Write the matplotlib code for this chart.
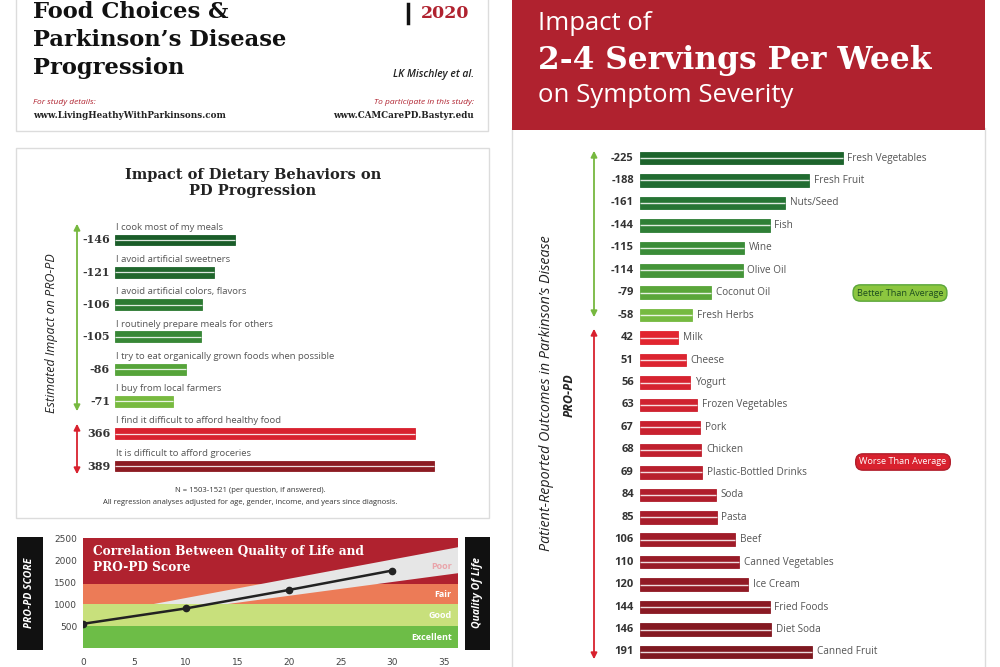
import matplotlib
matplotlib.use("Agg")
import matplotlib.pyplot as plt
from matplotlib.patches import Rectangle, Polygon

# ---- data ----
# right panel: impact of 2-4 servings per week on PRO-PD
foods = ["Fresh Vegetables", "Fresh Fruit", "Nuts/Seed", "Fish", "Wine", "Olive Oil",
         "Coconut Oil", "Fresh Herbs", "Milk", "Cheese", "Yogurt", "Frozen Vegetables",
         "Pork", "Chicken", "Plastic-Bottled Drinks", "Soda", "Pasta", "Beef",
         "Canned Vegetables", "Ice Cream", "Fried Foods", "Diet Soda", "Canned Fruit"]
food_vals = [-225, -188, -161, -144, -115, -114, -79, -58, 42, 51, 56, 63,
             67, 68, 69, 84, 85, 106, 110, 120, 144, 146, 191]
food_colors = ["#1d642c", "#216c31", "#267434", "#2f7f36", "#3a8c38", "#459539",
               "#5aa63a", "#76ba41",
               "#e1252f", "#dc2430", "#d62330", "#cf2230", "#c8212f", "#c0202e",
               "#b81f2d", "#b01e2c", "#a81d2b", "#a01c29", "#981b27", "#911a25",
               "#8a1a24", "#841922", "#7e1820"]

# left panel: dietary behaviours
behaviours = ["I cook most of my meals", "I avoid artificial sweetners",
              "I avoid artificial colors, flavors", "I routinely prepare meals for others",
              "I try to eat organically grown foods when possible", "I buy from local farmers",
              "I find it difficult to afford healthy food", "It is difficult to afford groceries"]
behaviour_vals = [-146, -121, -106, -105, -86, -71, 366, 389]
behaviour_colors = ["#1a5d29", "#21672d", "#2c7a32", "#378736", "#56a43a", "#78ba40",
                    "#d8212e", "#8c1b22"]

# bottom panel: quality of life vs PRO-PD score
qol_x = [0, 10, 20, 30]
qol_y = [550, 900, 1320, 1760]
band_edges = [0, 500, 1000, 1450, 2500]
band_names = ["Excellent", "Good", "Fair", "Poor"]
band_colors = ["#6dbd47", "#c8e07c", "#ec7b57", "#b0222f"]
ci_upper = [700, 2290]
ci_lower = [560, 1700]
qol_xticks = [0, 5, 10, 15, 20, 25, 30, 35]
qol_yticks = [500, 1000, 1500, 2000, 2500]

RED = "#b0222f"
SERIF = "DejaVu Serif"
SANS = "Open Sans"

fig = plt.figure(figsize=(10, 6.67), dpi=100)
fig.patch.set_facecolor("white")


def box(x0, y0, x1, y1):
    return [x0 / 1000, 1 - y1 / 667, (x1 - x0) / 1000, (y1 - y0) / 667]


# background axes in pixel coords for panels and text
bg = fig.add_axes([0, 0, 1, 1])
bg.set_xlim(0, 1000)
bg.set_ylim(667, 0)
bg.axis("off")

for (x0, y0, x1, y1) in [(16, -5, 488, 131), (16, 148, 489, 518), (512, 128, 985, 672)]:
    bg.add_patch(Rectangle((x0, y0), x1 - x0, y1 - y0, fc="white", ec="#dcdcdc", lw=1))

# --- top-left header ---
for yy, line in [(12, "Food Choices &"), (40, "Parkinson’s Disease"), (68, "Progression")]:
    bg.text(33, yy, line, fontsize=16.3, fontweight="bold", family=SERIF, va="center", color="#111")
bg.plot([408, 408], [4, 23], color="#111", lw=2.5)
bg.text(421, 14, "2020", fontsize=12.5, fontweight="bold", family=SERIF, va="center", color=RED)
bg.text(474, 75, "LK Mischley et al.", fontsize=7.5, style="italic", fontweight="semibold",
        family=SANS, ha="right", va="center", color="#222")
bg.text(33, 102, "For study details:", fontsize=6, style="italic", family=SANS, va="center", color=RED)
bg.text(33, 115, "www.LivingHeathyWithParkinsons.com", fontsize=6.3, fontweight="bold",
        family=SERIF, va="center", color="#222")
bg.text(474, 102, "To participate in this study:", fontsize=6, style="italic", family=SANS,
        ha="right", va="center", color=RED)
bg.text(474, 115, "www.CAMCarePD.Bastyr.edu", fontsize=6.3, fontweight="bold", family=SERIF,
        ha="right", va="center", color="#222")

# --- right header ---
bg.add_patch(Rectangle((512, -2), 473, 132, fc=RED, ec="none"))
bg.text(538, 23, "Impact of", fontsize=18.5, family=SANS, color="white", va="center")
bg.text(538, 60, "2-4 Servings Per Week", fontsize=22.5, fontweight="bold", family=SERIF,
        color="white", va="center")
bg.text(538, 96, "on Symptom Severity", fontsize=18.5, family=SANS, color="white", va="center")

# --- middle-left panel text ---
bg.text(253, 183, "Impact of Dietary Behaviors on\nPD Progression", fontsize=10.5, fontweight="bold",
        family=SERIF, ha="center", va="center", linespacing=1.25, color="#222")
bg.text(52, 333, "Estimated Impact on PRO-PD", fontsize=9, style="italic", family=SANS,
        rotation=90, ha="center", va="center", color="#222")
bg.annotate("", xy=(77, 221), xytext=(77, 414),
            arrowprops=dict(arrowstyle="<|-|>", color="#76b83f", lw=1.3, mutation_scale=9))
bg.annotate("", xy=(77, 421), xytext=(77, 477),
            arrowprops=dict(arrowstyle="<|-|>", color="#d8212e", lw=1.3, mutation_scale=9))
bg.text(250, 491, "N = 1503-1521 (per question, if answered).", fontsize=5.5, family=SANS,
        ha="center", va="center", color="#333")
bg.text(250, 503, "All regression analyses adjusted for age, gender, income, and years since diagnosis.",
        fontsize=5.5, family=SANS, ha="center", va="center", color="#333")

# --- right panel text ---
bg.text(547, 393, "Patient-Reported Outcomes in Parkinson’s Disease", fontsize=10.3, style="italic",
        family=SANS, rotation=90, ha="center", va="center", color="#222")
bg.text(569, 395, "PRO-PD", fontsize=9, style="italic", fontweight="bold", family=SANS,
        rotation=90, ha="center", va="center", color="#222")
bg.annotate("", xy=(594, 148), xytext=(594, 320),
            arrowprops=dict(arrowstyle="<|-|>", color="#76b83f", lw=1.3, mutation_scale=9))
bg.annotate("", xy=(594, 326), xytext=(594, 662),
            arrowprops=dict(arrowstyle="<|-|>", color="#d8212e", lw=1.3, mutation_scale=9))
bg.text(900, 293, "Better Than Average", fontsize=6.6, family=SANS, ha="center", va="center",
        color="#1d4d1f", bbox=dict(boxstyle="round,pad=0.4,rounding_size=0.8", fc="#8cc63f", ec="#5aa63a", lw=1))
bg.text(903, 462, "Worse Than Average", fontsize=6.6, family=SANS, ha="center", va="center",
        color="white", bbox=dict(boxstyle="round,pad=0.4,rounding_size=0.8", fc="#d8212e", ec="#b01e2c", lw=1))

# --- bottom-left black side boxes ---
bg.add_patch(Rectangle((17, 537), 26, 113, fc="#111", ec="none"))
bg.text(30, 593, "PRO-PD SCORE", fontsize=7.5, style="italic", fontweight="bold", family=SANS,
        rotation=90, ha="center", va="center", color="white")
bg.add_patch(Rectangle((465, 537), 25, 113, fc="#111", ec="none"))
bg.text(477.5, 593, "Quality Of Life", fontsize=7.5, style="italic", fontweight="bold", family=SANS,
        rotation=90, ha="center", va="center", color="white")


def striped_barh(ax, vals, colors, height, stripe):
    lens = [abs(v) for v in vals]
    rows = list(range(len(vals)))
    ax.barh(rows, lens, height=height, color=colors, edgecolor=colors, lw=0.6)
    ax.hlines(rows, 0, lens, colors="white", lw=stripe, alpha=0.85)
    return rows, lens


# --- right bar chart ---
ax_r = fig.add_axes(box(640, 158 - 11.2, 985, 652 + 11.2))
rows, lens = striped_barh(ax_r, food_vals, food_colors, 0.56, 1.0)
ax_r.set_xlim(0, 345 / 0.9)
ax_r.set_ylim(len(foods) - 0.5, -0.5)
ax_r.axis("off")
for i, (v, n) in enumerate(zip(food_vals, foods)):
    ax_r.annotate(str(v), xy=(0, i), xytext=(-4.5, 0), textcoords="offset points",
                  ha="right", va="center", fontsize=8, fontweight="bold", family=SANS, color="#333")
    ax_r.annotate(n, xy=(lens[i], i), xytext=(3.5, 0), textcoords="offset points",
                  ha="left", va="center", fontsize=7.2, family=SANS, color="#555")

# --- left bar chart ---
ax_l = fig.add_axes(box(115, 240 - 16.15, 480, 466 + 16.15))
rows, lens = striped_barh(ax_l, behaviour_vals, behaviour_colors, 0.34, 0.9)
ax_l.set_xlim(0, 365 / 0.82)
ax_l.set_ylim(len(behaviours) - 0.5, -0.5)
ax_l.axis("off")
for i, (v, n) in enumerate(zip(behaviour_vals, behaviours)):
    ax_l.annotate(str(v), xy=(0, i), xytext=(-3.6, 0), textcoords="offset points",
                  ha="right", va="center", fontsize=8, fontweight="bold", family=SERIF, color="#333")
    ax_l.annotate(n, xy=(0, i), xytext=(0.7, 9.2), textcoords="offset points",
                  ha="left", va="center", fontsize=6.8, family=SANS, color="#555")

# --- bottom chart: quality of life vs PRO-PD ---
ax_q = fig.add_axes(box(83, 538, 458, 648))
for lo, hi, c in zip(band_edges[:-1], band_edges[1:], band_colors):
    # green bands sit above the grey confidence wedge, red/orange below it
    ax_q.axhspan(lo, hi, color=c, lw=0, zorder=2 if hi <= 1000 else 0)
ax_q.set_xlim(0, 36.4)
ax_q.set_ylim(0, 2500)
xr = ax_q.get_xlim()[1]
ax_q.add_patch(Polygon([(0, ci_upper[0]), (xr, ci_upper[1]), (xr, ci_lower[1]), (0, ci_lower[0])],
                       closed=True, fc="#e6e6e6", ec="none", zorder=1))
ax_q.plot(qol_x, qol_y, color="#222", lw=1.8, marker="o", ms=4.5, zorder=3)
for lo, hi, name in zip(band_edges[:-1], band_edges[1:], band_names):
    yy = (lo + hi) / 2 if name != "Poor" else 1850
    ax_q.text(xr - 0.6, yy, name, ha="right", va="center", fontsize=6.5, fontweight="bold",
              family=SANS, color="#eaa4aa" if name == "Poor" else "white", zorder=4)
ax_q.text(1.0, 2330, "Correlation Between Quality of Life and\nPRO-PD Score", fontsize=8.7,
          fontweight="bold", family=SERIF, color="white", ha="left", va="top", linespacing=1.3, zorder=4)
ax_q.set_xticks(qol_xticks)
ax_q.set_yticks(qol_yticks)
ax_q.tick_params(length=0, labelsize=6.5, labelcolor="#444")
ax_q.tick_params(axis="x", pad=7)
ax_q.tick_params(axis="y", pad=4)
for s in ax_q.spines.values():
    s.set_visible(False)

fig.savefig("out.png", dpi=100)
